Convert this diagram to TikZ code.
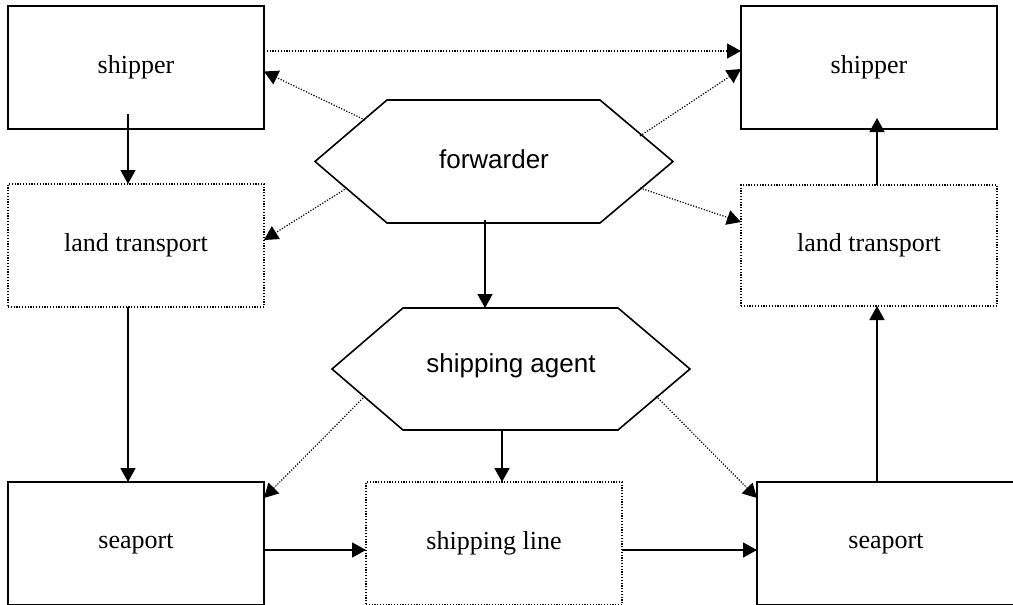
\documentclass[tikz,border=0pt]{standalone}
\usepackage{fontspec}
\setmainfont{Liberation Serif}
\newfontfamily\arialfont{Liberation Sans}
\usetikzlibrary{arrows.meta}
\begin{document}
\begin{tikzpicture}[x=1pt,y=-1pt,
  solidbox/.style={draw, line width=1.6pt, inner sep=0pt, outer sep=0pt,
    minimum width=256pt, minimum height=123pt, font=\fontsize{26}{30}\selectfont},
  dotbox/.style={solidbox, line width=1.2pt, dash pattern=on 1.2pt off 1.6pt},
  hexline/.style={draw, line width=1.6pt, line join=miter},
  hextext/.style={inner sep=0pt, font=\arialfont\fontsize{26}{30}\selectfont},
  arr/.style={line width=1.6pt, -{Triangle[length=14pt,width=15pt]}},
  dotarr/.style={line width=1.2pt, dash pattern=on 1.2pt off 1.6pt, -{Triangle[length=14pt,width=15pt]}}
]
\useasboundingbox (0,0) rectangle (1013,605);
\clip (0,0) rectangle (1013,605);

% boxes
\node[solidbox] (shipL) at (136,67.5) {shipper};
\node[solidbox] (shipR) at (869,67.5) {shipper};
\node[dotbox] (landL) at (136,245.5) {land transport};
\node[dotbox, minimum height=121pt] (landR) at (869,245.5) {land transport};
\node[solidbox] (seaL) at (136,543.5) {seaport};
\node[dotbox] (shipLine) at (494,543.5) {shipping line};
\node[solidbox, minimum width=258pt] (seaR) at (886,543.5) {seaport};

% forwarder hexagon
\draw[hexline] (315,161.5) -- (387,100) -- (600,100) -- (673,161.5) -- (600,223) -- (387,223) -- cycle;
\node[hextext] (fwd) at (494,159) {forwarder};
\coordinate (fUL) at (365,120);
\coordinate (fUR) at (640,136);
\coordinate (fLL) at (347,188);
\coordinate (fLR) at (640,188);
\coordinate (fS) at (485,220);

% shipping agent hexagon
\draw[hexline] (332,369) -- (403,308) -- (618,308) -- (690,369) -- (618,430) -- (403,430) -- cycle;
\node[hextext] (agent) at (511,366) {shipping agent};
\coordinate (aN) at (485,308);
\coordinate (aS) at (502,430);
\coordinate (aLL) at (365,396);
\coordinate (aLR) at (656,396);

% solid connectors
\draw[arr] ([xshift=-8pt,yshift=15pt]shipL.south) -- ([xshift=-8pt]landL.north);
\draw[arr] ([xshift=-8pt]landL.south) -- ([xshift=-8pt]seaL.north);
\draw[arr] ([xshift=8pt]landR.north) -- ([xshift=8pt,yshift=11pt]shipR.south);
\draw[arr] ([xshift=-9pt]seaR.north) -- ([xshift=8pt]landR.south);
\draw[arr] (fS) -- (aN);
\draw[arr] (aS) -- ([xshift=8pt]shipLine.north);
\draw[arr] ([yshift=-6.5pt]seaL.east) -- ([yshift=-6.5pt]shipLine.west);
\draw[arr] ([yshift=-6.5pt]shipLine.east) -- ([yshift=-6.5pt]seaR.west);

% dotted connectors
\draw[dotarr] ([yshift=16.5pt]shipL.east) -- ([yshift=16.5pt]shipR.west);
\draw[dotarr] (fUL) -- ([yshift=-4pt]shipL.east);
\draw[dotarr] (fUR) -- ([yshift=-1.5pt]shipR.west);
\draw[dotarr] (fLL) -- ([yshift=5.5pt]landL.east);
\draw[dotarr] (fLR) -- ([yshift=23.5pt]landR.west);
\draw[dotarr] (aLL) -- ([yshift=45.5pt]seaL.east);
\draw[dotarr] (aLR) -- ([yshift=45.5pt]seaR.west);
\end{tikzpicture}
\end{document}
